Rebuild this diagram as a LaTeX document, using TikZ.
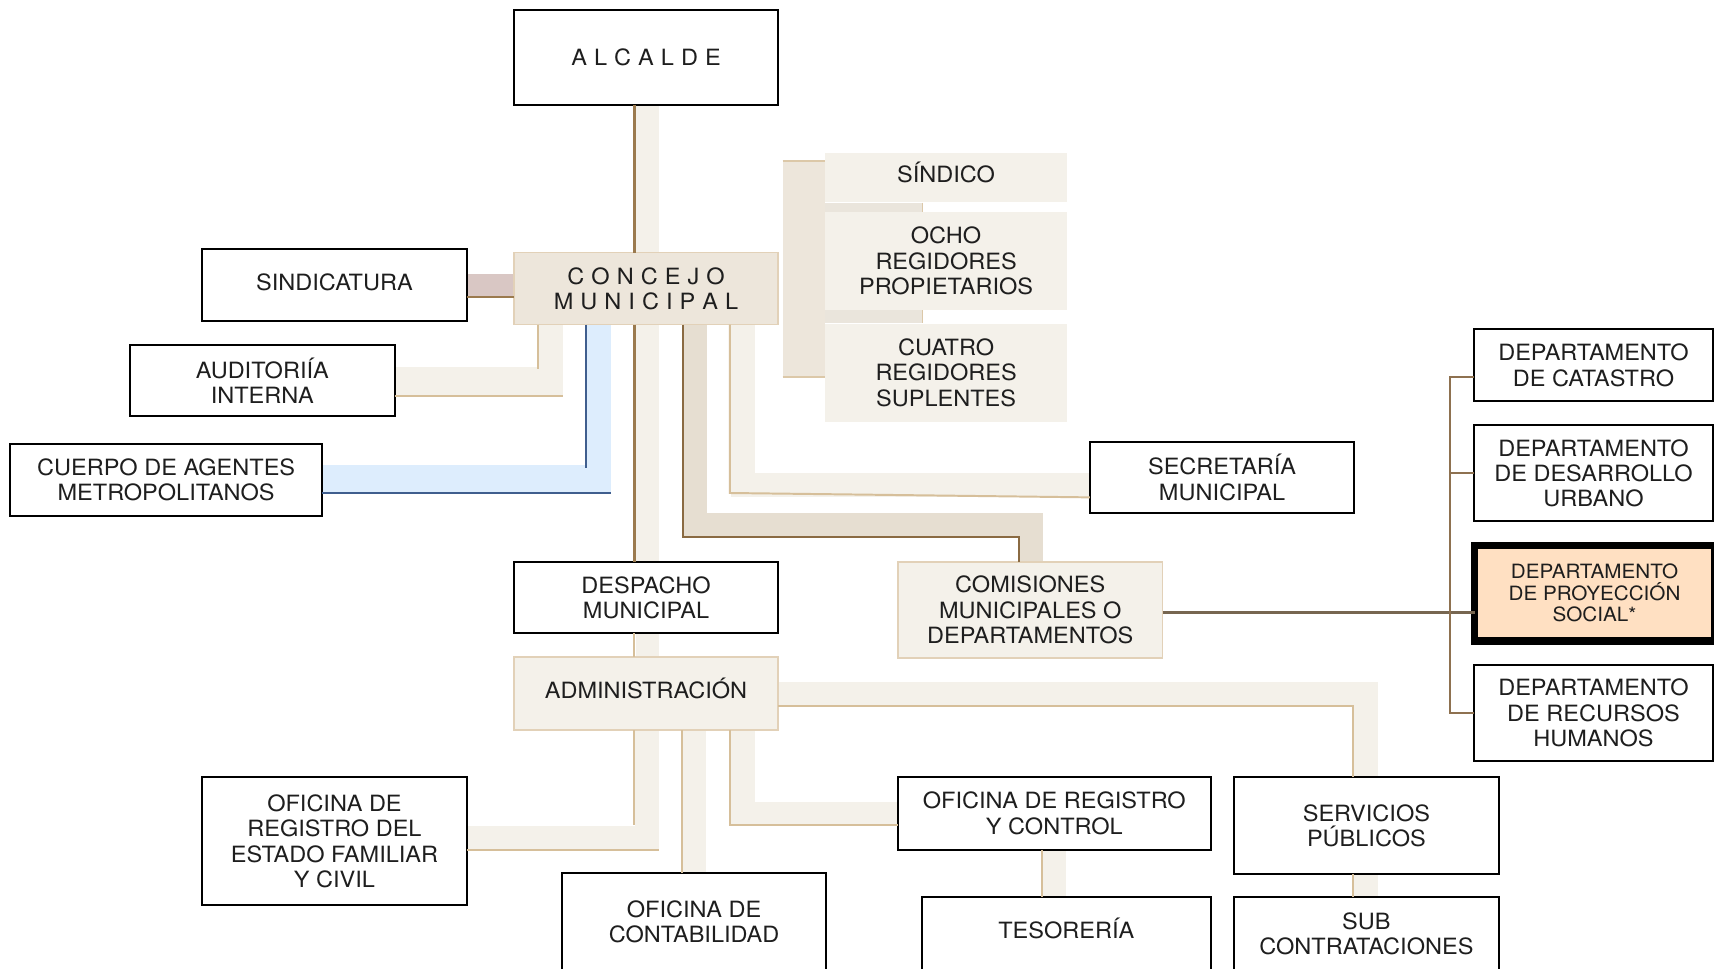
\documentclass[tikz,border=0pt]{standalone}
\usepackage{fontspec}
\setmainfont[FakeStretch=1.05]{TeX Gyre Heros}
\usetikzlibrary{calc}
\definecolor{ink}{HTML}{1E1E1E}
\definecolor{lband}{HTML}{F4F1EA}
\definecolor{cband}{HTML}{E6DED1}
\definecolor{concejofill}{HTML}{EDE6DB}
\definecolor{tanb}{HTML}{E2D1B8}
\definecolor{tanl}{HTML}{D6BF9A}
\definecolor{brownl}{HTML}{9B7A4E}
\definecolor{dbrown}{HTML}{8A6A42}
\definecolor{mauve}{HTML}{D9C7C4}
\definecolor{blueband}{HTML}{DDEDFD}
\definecolor{bluel}{HTML}{3F5E8E}
\definecolor{deptl}{HTML}{8E7150}
\definecolor{comisl}{HTML}{776650}
\definecolor{peach}{HTML}{FFE0C2}
\definecolor{midband}{HTML}{EAE5DC}
\definecolor{brk}{HTML}{DCC8A8}
\newcommand\trk{\kern6.45pt}
\begin{document}
\begin{tikzpicture}[x=1pt,y=-1pt,
  every node/.style={inner sep=0pt, outer sep=0pt, align=center, text=ink,
    font=\fontsize{20.5}{23.3}\selectfont},
  wbox/.style={draw=black, line width=1.8pt, fill=white, anchor=north west},
  tbox/.style={draw=tanb, line width=1.5pt, fill=lband, anchor=north west},
  gbox/.style={fill=lband, anchor=north west},
  oneline/.style={text height=14.7pt, text depth=5.9pt},
  bline/.style={draw=brownl, line width=2pt},
  tline/.style={draw=tanl, line width=1.8pt},
  dline/.style={draw=dbrown, line width=2pt},
  blline/.style={draw=bluel, line width=1.8pt},
  depline/.style={draw=deptl, line width=2pt},
  brkline/.style={draw=brk, line width=1.5pt}]
\path[use as bounding box, clip] (0,0) rectangle (1568,886);
\fill[white] (0,0) rectangle (1568,886);

% ---------- bands ----------
\fill[lband] (581.5,96) rectangle (602.4,231);
\fill[mauve] (427,251) rectangle (470,271);
\fill[lband] (493,297) rectangle (515,363);
\fill[lband] (361,335.5) rectangle (515,363);
\fill[blueband] (536.8,297) rectangle (558.7,451.3);
\fill[blueband] (295,425.4) rectangle (558.7,451.3);
\fill[lband] (581.5,297) rectangle (602.4,514);
\fill[cband] (625,297) rectangle (647,491);
\fill[cband] (625,469.6) rectangle (954.3,491);
\fill[cband] (932,469.6) rectangle (954.3,514);
\fill[lband] (668.5,297) rectangle (690.5,454.4);
\fill[lband] (668.5,432.4) rectangle (997,454.4);
\fill[lband] (581.5,579.5) rectangle (602.4,601);
\fill[lband] (580.5,668) rectangle (602.4,778.2);
\fill[lband] (427,755.7) rectangle (602.4,778.2);
\fill[lband] (624.6,668) rectangle (645.8,799);
\fill[lband] (668.3,668) rectangle (690.6,754.7);
\fill[lband] (668.3,734) rectangle (821.5,754.7);
\fill[lband] (712,623.6) rectangle (1261,645.6);
\fill[lband] (1238,623.6) rectangle (1261,711);
\fill[lband] (953.9,777.5) rectangle (975.3,821);
\fill[lband] (1238.5,799.5) rectangle (1261,821);
% bracket beside the council members
\fill[concejofill] (716,147) rectangle (755,345.5);
\draw[brkline] (716,147.5) -- (755,147.5);
\draw[brkline] (716,345) -- (755,345);
\fill[midband] (755,185.4) rectangle (844.5,194);
\draw[brkline] (843.8,185.4) -- (843.8,194);
\fill[midband] (755,283.6) rectangle (844.5,295.8);
\draw[brkline] (843.8,283.6) -- (843.8,295.8);

% ---------- nodes ----------
\node[wbox, minimum width=242pt, minimum height=87pt] (alcalde) at (470,9) {A\trk L\trk C\trk A\trk L\trk D\trk E};
\node[tbox, fill=concejofill, minimum width=242pt, minimum height=66pt] (concejo) at (470,231)
  {C\trk O\trk N\trk C\trk E\trk J\trk O\\M\trk U\trk N\trk I\trk C\trk I\trk P\trk A\trk L};
\node[wbox, oneline, minimum width=242pt, minimum height=66pt] (sindicatura) at (185,228) {SINDICATURA};
\node[wbox, minimum width=242pt, minimum height=65pt] (auditoria) at (119,316) {AUDITORIÍA\\INTERNA};
\node[wbox, minimum width=286pt, minimum height=66pt] (cuerpo) at (9,406) {CUERPO DE AGENTES\\METROPOLITANOS};
\node[gbox, oneline, minimum width=221pt, minimum height=45pt] (sindico) at (755,140) {SÍNDICO};
\node[gbox, minimum width=221pt, minimum height=89.5pt] (ocho) at (755,194) {OCHO\\REGIDORES\\PROPIETARIOS};
\node[gbox, minimum width=221pt, minimum height=90pt] (cuatro) at (755,296) {CUATRO\\REGIDORES\\SUPLENTES};
\node[wbox, minimum width=242pt, minimum height=65.5pt] (secretaria) at (997,404) {SECRETARÍA\\MUNICIPAL};
\node[wbox, minimum width=242pt, minimum height=65.5pt] (despacho) at (470,514) {DESPACHO\\MUNICIPAL};
\node[tbox, minimum width=242pt, minimum height=88pt] (comisiones) at (821.5,514) {COMISIONES\\MUNICIPALES O\\DEPARTAMENTOS};
\node[tbox, oneline, minimum width=242pt, minimum height=67pt] (admin) at (470,601) {ADMINISTRACIÓN};
\node[wbox, minimum width=242pt, minimum height=117pt] (oficreg) at (185,711) {OFICINA DE\\REGISTRO DEL\\ESTADO FAMILIAR\\Y CIVIL};
\node[wbox, minimum width=242pt, minimum height=89pt] (contab) at (514,799) {OFICINA DE\\CONTABILIDAD};
\node[wbox, minimum width=286pt, minimum height=66.5pt] (regctrl) at (821.5,711) {OFICINA DE REGISTRO\\Y CONTROL};
\node[wbox, oneline, minimum width=264pt, minimum height=67pt] (tesoreria) at (843.5,821) {TESORERÍA};
\node[wbox, minimum width=242pt, minimum height=88.5pt] (servicios) at (1129,711) {SERVICIOS\\PÚBLICOS};
\node[wbox, minimum width=242pt, minimum height=67pt] (sub) at (1129,821) {SUB\\CONTRATACIONES};
\node[wbox, minimum width=218.5pt, minimum height=66pt] (catastro) at (1348.5,301) {DEPARTAMENTO\\DE CATASTRO};
\node[wbox, minimum width=218.5pt, minimum height=88pt] (desarrollo) at (1348.5,389) {DEPARTAMENTO\\DE DESARROLLO\\URBANO};
\node[draw=black, line width=7pt, fill=peach, anchor=north west, minimum width=219.6pt, minimum height=87.3pt,
  font=\fontsize{18}{19.5}\selectfont] (proyeccion) at (1348.9,498.9) {DEPARTAMENTO\\DE PROYECCIÓN\\SOCIAL*};
\node[wbox, minimum width=218.5pt, minimum height=88pt] (recursos) at (1348.5,608.5) {DEPARTAMENTO\\DE RECURSOS\\HUMANOS};

% ---------- connector lines ----------
\draw[bline] ($(alcalde.south)+(-10.5,0)$) -- ($(concejo.north)+(-10.5,0)$);
\draw[bline] ($(sindicatura.east)+(0,11)$) -- ($(concejo.west)+(0,8)$);
\draw[tline] ($(concejo.south west)+(22.3,0)$) -- ++(0,40.5);
\draw[tline] ($(auditoria.east)+(0,13.5)$) -- ++(154,0);
\draw[blline] ($(concejo.south west)+(66.5,0)$) -- ++(0,131.5);
\draw[blline] ($(cuerpo.east)+(0,11.6)$) -- ++(263.7,0);
\draw[bline] ($(concejo.south)+(-10.5,0)$) -- ($(despacho.north)+(-10.5,0)$);
\draw[dline] ($(concejo.south west)+(154.5,0)$) |- ($(comisiones.north)+(-10.5,-22.5)$) -- ($(comisiones.north)+(-10.5,0)$);
\draw[tline] ($(concejo.south west)+(197.6,0)$) -- ++(0,154) -- ($(secretaria.west)+(0,18.25)$);
\draw[tline] ($(despacho.south)+(-11,0)$) -- ($(admin.north)+(-11,0)$);
\draw[tline] ($(admin.south)+(-11,0)$) -- ++(0,86.7);
\draw[tline] ($(oficreg.east)+(0,8)$) -- ++(175.4,0);
\draw[tline] ($(admin.south)+(33.1,0)$) -- ($(contab.north)+(-10.9,0)$);
\draw[tline] ($(admin.south)+(76.8,0)$) |- ($(regctrl.west)+(0,10.45)$);
\draw[tline] ($(admin.east)+(0,11.1)$) -| ($(servicios.north)+(-12,0)$);
\draw[tline] ($(regctrl.south)+(-11.1,0)$) -- ($(tesoreria.north)+(-22.1,0)$);
\draw[tline] ($(servicios.south)+(-12,0)$) -- ($(sub.north)+(-12,0)$);
\draw[draw=comisl, line width=2pt] ($(comisiones.east)+(0,2.3)$) coordinate (c1) -- (c1 -| proyeccion.west);
\draw[depline] ($(catastro.west)+(0,10.6)$) -- ++(-22,0) coordinate (bt) -- (bt |- recursos.west) -- (recursos.west);
\draw[depline] (desarrollo.west) -- (desarrollo.west -| bt);
\end{tikzpicture}
\end{document}
